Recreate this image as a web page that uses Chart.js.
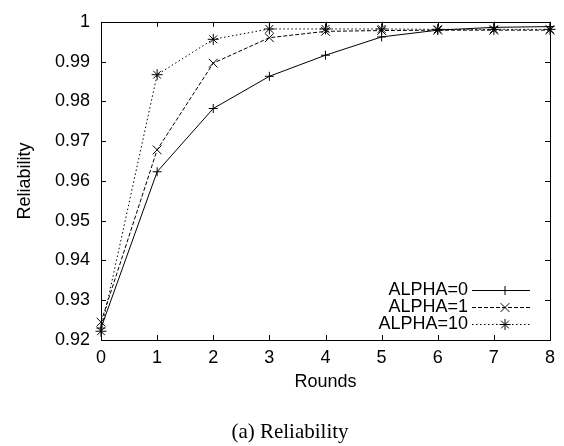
<!DOCTYPE html>
<html><head><meta charset="utf-8">
<script src="https://cdn.jsdelivr.net/npm/chart.js@4/dist/chart.umd.min.js"></script>
<style>html,body{margin:0;padding:0;background:#fff}</style>
</head><body>
<canvas id="c" width="564" height="446"></canvas>
<script>
const rounds = [0, 1, 2, 3, 4, 5, 6, 7, 8];
const alpha0 = [0.9230, 0.9623, 0.9782, 0.9863, 0.9916, 0.9962, 0.9979, 0.9986, 0.9988];
const alpha1 = [0.9245, 0.9678, 0.9896, 0.9960, 0.9976, 0.9978, 0.9979, 0.9979, 0.9979];
const alpha10 = [0.9222, 0.9867, 0.9956, 0.9982, 0.9982, 0.9982, 0.9981, 0.9981, 0.9981];
const seriesLabels = ['ALPHA=0', 'ALPHA=1', 'ALPHA=10'];
const yTickLabels = ['0.92', '0.93', '0.94', '0.95', '0.96', '0.97', '0.98', '0.99', '1'];
const xTickLabels = ['0', '1', '2', '3', '4', '5', '6', '7', '8'];
const xTitle = 'Rounds';
const yTitle = 'Reliability';
const caption = '(a) Reliability';

const FONT = 'Liberation Sans, Arial, Helvetica, sans-serif';

function pts(vals) { return rounds.map((r, i) => ({ x: r, y: vals[i] })); }

const styles = [
  { pointStyle: 'cross', radius: 4.5, dash: [] },
  { pointStyle: 'crossRot', radius: 6.2, dash: [4, 2] },
  { pointStyle: 'star', radius: 5.5, dash: [1.5, 2.5] }
];
const allVals = [alpha0, alpha1, alpha10];

const datasets = allVals.map((v, i) => ({
  label: seriesLabels[i],
  data: pts(v),
  borderColor: '#000',
  backgroundColor: '#000',
  borderWidth: 1,
  borderDash: styles[i].dash,
  pointStyle: styles[i].pointStyle,
  pointRadius: styles[i].radius,
  pointBorderWidth: 1,
  pointBorderColor: '#000',
  pointBackgroundColor: '#000',
  tension: 0,
  clip: false,
  fill: false
}));

const framePlugin = {
  id: 'frame',
  beforeDatasetsDraw(chart) {
    const { ctx, chartArea: a, scales: { x, y } } = chart;
    ctx.save();
    ctx.strokeStyle = '#000';
    ctx.lineWidth = 1;
    ctx.setLineDash([]);
    ctx.strokeRect(Math.round(a.left) + 0.5, Math.round(a.top) + 0.5, Math.round(a.right - a.left), Math.round(a.bottom - a.top));
    const tl = 5;
    ctx.beginPath();
    y.ticks.forEach(t => {
      const py = Math.round(y.getPixelForValue(t.value)) + 0.5;
      ctx.moveTo(a.left, py); ctx.lineTo(a.left + tl, py);
      ctx.moveTo(a.right, py); ctx.lineTo(a.right - tl, py);
    });
    x.ticks.forEach(t => {
      const px = Math.round(x.getPixelForValue(t.value)) + 0.5;
      ctx.moveTo(px, a.bottom); ctx.lineTo(px, a.bottom - tl);
      ctx.moveTo(px, a.top); ctx.lineTo(px, a.top + tl);
    });
    ctx.stroke();
    ctx.restore();
  },
  afterDraw(chart) {
    const { ctx } = chart;
    ctx.save();
    // legend
    const rowY = [290, 307, 324];
    chart.data.datasets.forEach((ds, i) => {
      const yy = rowY[i];
      ctx.fillStyle = '#000';
      ctx.font = '18px ' + FONT;
      ctx.textAlign = 'right';
      ctx.textBaseline = 'middle';
      ctx.fillText(ds.label, 468, yy);
      ctx.strokeStyle = '#000';
      ctx.lineWidth = 1;
      ctx.setLineDash(ds.borderDash);
      ctx.beginPath();
      ctx.moveTo(472, yy + 0.5); ctx.lineTo(530, yy + 0.5);
      ctx.stroke();
      ctx.setLineDash([]);
      Chart.helpers.drawPoint(ctx, { pointStyle: ds.pointStyle, radius: ds.pointRadius, rotation: 0, borderWidth: 1 }, 505, yy + 0.5);
    });
    // caption
    ctx.font = '21px "Liberation Serif", "Times New Roman", serif';
    ctx.textAlign = 'center';
    ctx.textBaseline = 'middle';
    ctx.fillStyle = '#000';
    ctx.fillText(caption, 290, 432);
    ctx.restore();
  }
};

new Chart(document.getElementById('c'), {
  type: 'line',
  data: { datasets },
  options: {
    responsive: false,
    devicePixelRatio: 1,
    animation: false,
    events: [],
    layout: { padding: { top: 13, right: 14, left: 0, bottom: 0 } },
    plugins: { legend: { display: false }, tooltip: { enabled: false }, title: { display: false } },
    scales: {
      x: {
        type: 'linear', min: 0, max: 8,
        grid: { display: false, drawTicks: false },
        border: { display: false },
        afterBuildTicks(s) { s.ticks = xTickLabels.map(v => ({ value: Number(v) })); },
        afterFit(s) { s.height = 106; },
        ticks: { color: '#000', font: { family: FONT, size: 18 }, padding: 7, maxRotation: 0, autoSkip: false,
          callback: (v, i) => xTickLabels[i] },
        title: { display: true, text: xTitle, color: '#000', font: { family: FONT, size: 18 }, padding: { top: 0, bottom: 53 } }
      },
      y: {
        type: 'linear', min: 0.92, max: 1,
        grid: { display: false, drawTicks: false },
        border: { display: false },
        afterBuildTicks(s) { s.ticks = yTickLabels.map(v => ({ value: Number(v) })); },
        afterFit(s) { s.width = 101; },
        ticks: { color: '#000', font: { family: FONT, size: 18 }, padding: 11, autoSkip: false,
          callback: (v, i) => yTickLabels[i] },
        title: { display: true, text: yTitle, color: '#000', font: { family: FONT, size: 18 }, padding: { top: 14, bottom: 0 } }
      }
    }
  },
  plugins: [framePlugin]
});
</script>
</body></html>
